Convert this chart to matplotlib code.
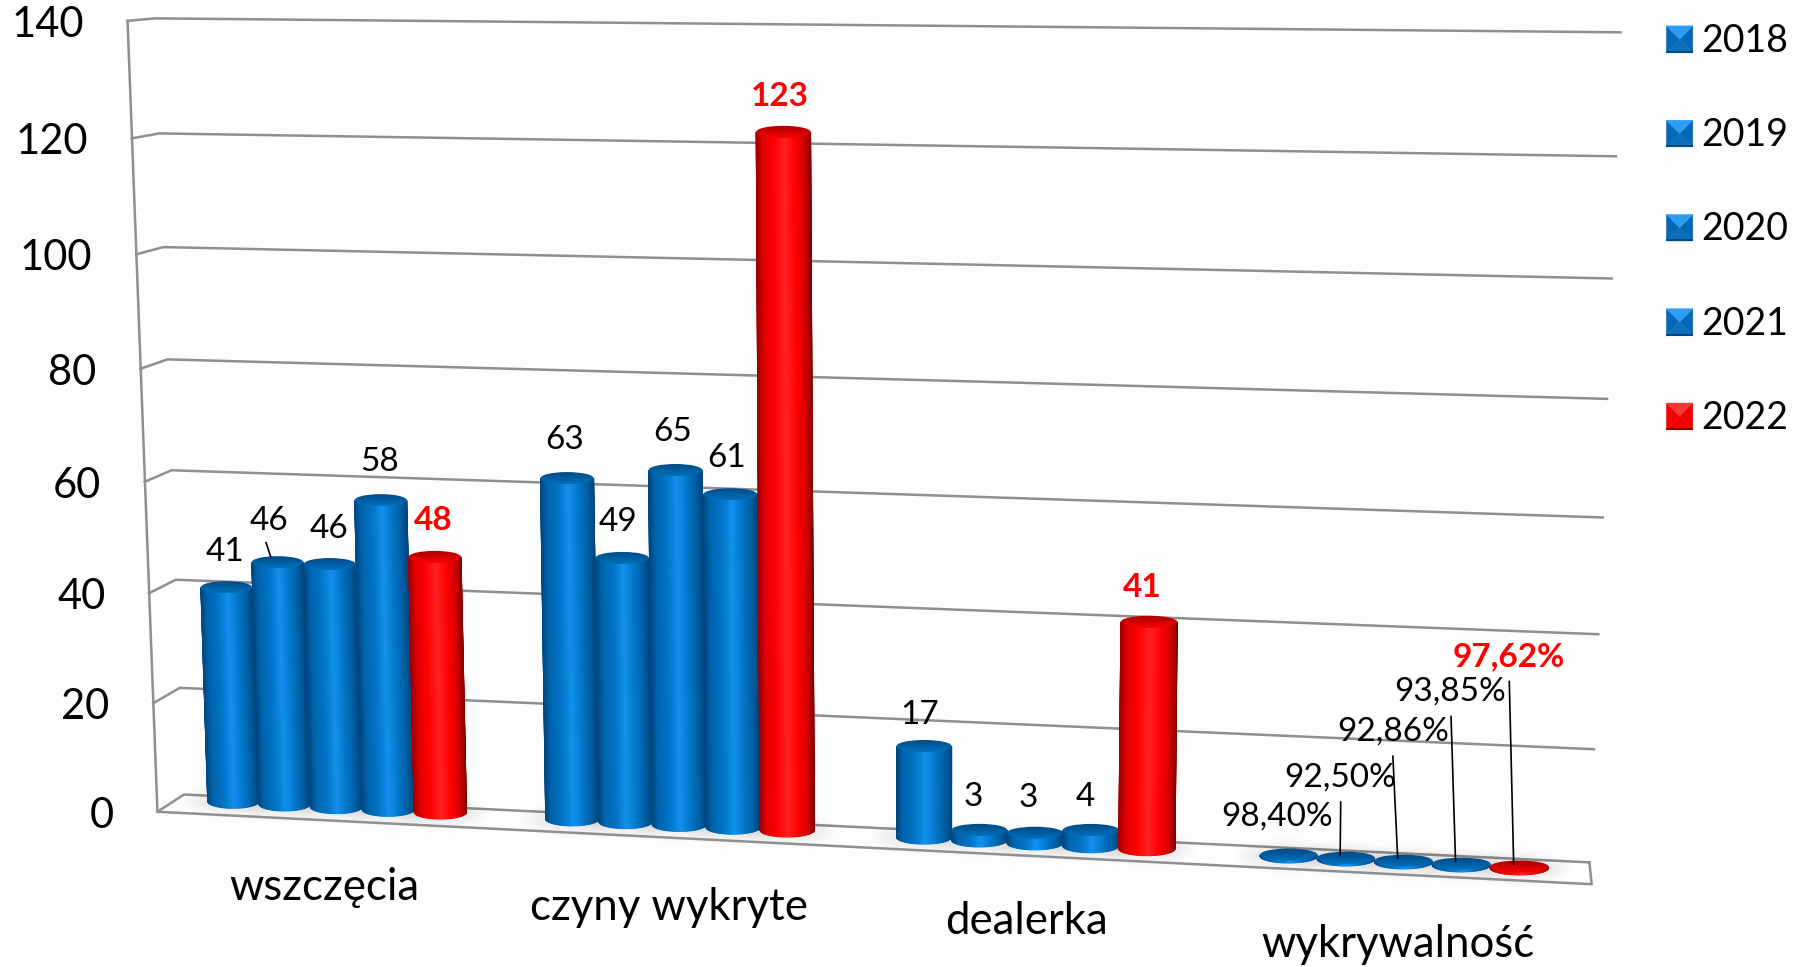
import numpy as np
import matplotlib
matplotlib.use("Agg")
import matplotlib.pyplot as plt
from matplotlib.colors import LinearSegmentedColormap
from matplotlib.patches import Ellipse, Polygon

categories = ["wszczęcia", "czyny wykryte", "dealerka", "wykrywalność"]
years = ["2018", "2019", "2020", "2021", "2022"]
values_2018 = [41, 63, 17, 0.984]
values_2019 = [46, 49, 3, 0.925]
values_2020 = [46, 65, 3, 0.9286]
values_2021 = [58, 61, 4, 0.9385]
values_2022 = [48, 123, 41, 0.9762]
y_ticks = [0, 20, 40, 60, 80, 100, 120, 140]

series = [values_2018, values_2019, values_2020, values_2021, values_2022]

# Label layout, in pixels of the 1568x841 view
label_xy = [
    [(196, 480), (491, 383), (800, 622), (1111, 710)],
    [(234, 453), (538, 454), (847, 693), (1166, 676)],
    [(286, 460), (585, 376), (895, 694), (1212, 636)],
    [(330, 402), (632, 398), (944, 693), (1262, 601)],
    [(377, 453), (679, 84), (994, 511), (1313, 571)],
]
category_xy = [(282, 772), (582, 789), (893, 801), (1216, 821)]
leader_tops = {(1, 3): (1166.6, 697.6), (2, 3): (1212, 657.7), (3, 3): (1262.6, 623.1), (4, 3): (1313.3, 592.7)}

GRID = "#8f8f8f"
BG = "#fdfdfd"
plt.rcParams["font.family"] = ["Lato", "DejaVu Sans"]

blue_cmap = LinearSegmentedColormap.from_list("blue", [
    (0.0, "#00477f"), (0.12, "#0064ae"), (0.32, "#0074c4"), (0.44, "#0c84dc"), (0.52, "#1592ee"),
    (0.62, "#0c84dc"), (0.74, "#0074c4"), (0.9, "#005c9f"), (1.0, "#00477f")])
red_cmap = LinearSegmentedColormap.from_list("red", [
    (0.0, "#9c0000"), (0.12, "#e00000"), (0.32, "#ff0000"), (0.52, "#ff2424"),
    (0.72, "#ff0000"), (0.9, "#d00000"), (1.0, "#8c0000")])
blue_cap = LinearSegmentedColormap.from_list("bluecap", ["#00497f", "#005c9f", "#0070be"])
red_cap = LinearSegmentedColormap.from_list("redcap", ["#a80000", "#d00000", "#f80000"])


def wall_y(v, y0, a, b):
    return y0 - a * v - b * v * v


def back_left(v):
    return 160 - 25 * v / 140, wall_y(v, 691, 4.609, 0.00152)


def back_right(v):
    return 1383 + 27 * v / 140, wall_y(v, 750, 4.882, 0.00196)


def front_left(v):
    return 137 - 26 * v / 140, wall_y(v, 706, 4.685, 0.00163)


def base_x(s):
    return 203 + 45.905 * (s - 1.25) + 0.1317 * (s - 1.25) * (s - 11.75)


def bar_point(s, v):
    """Centre of the bar's section at height v, slot position s."""
    x0 = base_x(s)
    lean = -0.16 + 0.0113 * s
    y0 = 697 + 0.0518 * (x0 - 203)
    # very short bars sink into the floor in the original rendering
    h = v * (4.36 + 0.00034 * x0 + 0.0028 * v) * (1 - np.exp(-v / 3))
    return x0 + lean * v, y0 - h


def draw_bar(ax, s, v, cmap, cap_cmap, z):
    r = 0.5 * (45.905 + 0.1317 * (2 * s - 13))
    xb, yb = bar_point(s, 0)
    xt, yt = bar_point(s, v)
    # soft shadow on the floor
    for k in range(6):
        ax.add_patch(Ellipse((xb - 1, yb), 2 * r + 10 + 6 * k, 12 + 4 * k, fc="k", ec="none", alpha=0.012, zorder=1.5))
    theta = np.linspace(np.pi, 0, 41)
    X = np.vstack([xt + r * np.cos(theta), xb + r * np.cos(theta)])
    Y = np.vstack([yt + 5 * np.sin(theta), yb + 6 * np.sin(theta)])
    C = np.vstack([(1 + np.cos(theta)) / 2, (1 + np.cos(theta)) / 2])
    ax.pcolormesh(X, Y, C, shading="gouraud", cmap=cmap, vmin=0, vmax=1, zorder=z)
    # cap: darker at the back, melting into the body at the front
    cap = Ellipse((xt, yt), 2 * r, 10.5, fc="none", ec="none", zorder=z + 0.1)
    ax.add_patch(cap)
    im = ax.imshow(np.linspace(0, 1, 32).reshape(-1, 1), extent=(xt - r, xt + r, yt + 5.25, yt - 5.25),
                   cmap=cap_cmap, aspect="auto", zorder=z + 0.1, interpolation="bilinear")
    im.set_clip_path(cap)


def draw_legend_key(ax, x, y, colors):
    size = 23
    x1, y1 = x + size, y + size
    cx, cy = x + size / 2, y + size / 2
    top, side, bottom, edge = colors
    ax.add_patch(Polygon([(x, y), (x, y1), (cx, cy)], fc=side, ec=side, lw=0.3, zorder=4))
    ax.add_patch(Polygon([(x1, y), (x1, y1), (cx, cy)], fc=side, ec=side, lw=0.3, zorder=4))
    ax.add_patch(Polygon([(x, y1), (x1, y1), (cx, cy)], fc=bottom, ec=bottom, lw=0.3, zorder=4))
    ax.add_patch(Polygon([(x, y), (x1, y), (cx, cy)], fc=top, ec=top, lw=0.3, zorder=4))
    ax.plot([x, x1], [y1 - 0.5, y1 - 0.5], color=edge, lw=1.5, zorder=5, solid_capstyle="butt")


fig = plt.figure(figsize=(18.02, 9.67), dpi=100, facecolor=BG)
ax = fig.add_axes([0, 0, 1, 1])
ax.set_facecolor(BG)

# Walls and floor
for v in y_ticks:
    fx, fy = front_left(v)
    lx, ly = back_left(v)
    rx, ry = back_right(v)
    ax.plot([fx, lx, rx], [fy, ly, ry], color=GRID, lw=1.8, zorder=1, solid_joinstyle="round")
    ax.text(fx - 38, fy + 3.5, str(v), ha="right", va="center", fontsize=30, color="black", zorder=10)

fx0, fy0 = front_left(0)
fx1, fy1 = front_left(140)
rx0, ry0 = back_right(0)
ax.plot([fx1, fx0, 1385, rx0], [fy1, fy0, 769, ry0], color=GRID, lw=1.8, zorder=2, solid_joinstyle="round")

# Bars
for j, vals in enumerate(series):
    red = j == len(series) - 1
    for c, v in enumerate(vals):
        s = c * 6.5 + 1.25 + j
        draw_bar(ax, s, v, red_cmap if red else blue_cmap, red_cap if red else blue_cap, 3 + j + c * 6)

        if c == 3:
            text = f"{v * 100:.2f}%".replace(".", ",")
        else:
            text = str(v)
        lx, ly = label_xy[j][c]
        ax.text(lx, ly, text, ha="center", va="center", fontsize=24,
                color="#ff0000" if red else "black", fontweight="bold" if red else "normal", zorder=40)

        if (j, c) in leader_tops:
            tx, ty = leader_tops[(j, c)]
            bx, by = bar_point(s, v)
            ax.plot([tx, bx - 5], [ty, by - 2], color="black", lw=1.2, zorder=39)

# short leader on the second bar of the first group
bx, by = bar_point(2.25, values_2019[0])
ax.plot([bx - 10, bx - 6], [by - 17, by - 5], color="black", lw=1.2, zorder=39)

for (x, y), name in zip(category_xy, categories):
    ax.text(x, y, name, ha="center", va="center", fontsize=31.5, color="black", zorder=40)

# Legend
for i, year in enumerate(years):
    ky = 34 + i * 82
    if i == 4:
        colors = ("#ff3434", "#f00000", "#f40000", "#8e0000")
    else:
        colors = ("#2a9df4", "#0468b4", "#0a70bc", "#00477f")
    draw_legend_key(ax, 1450, ky - 11.5, colors)
    ax.text(1480, ky + 1.5, year, ha="left", va="center", fontsize=27, color="black", zorder=10)

ax.set_xlim(0, 1568)
ax.set_ylim(841, 0)
ax.axis("off")
fig.savefig("out.png", dpi=100, facecolor=BG)
